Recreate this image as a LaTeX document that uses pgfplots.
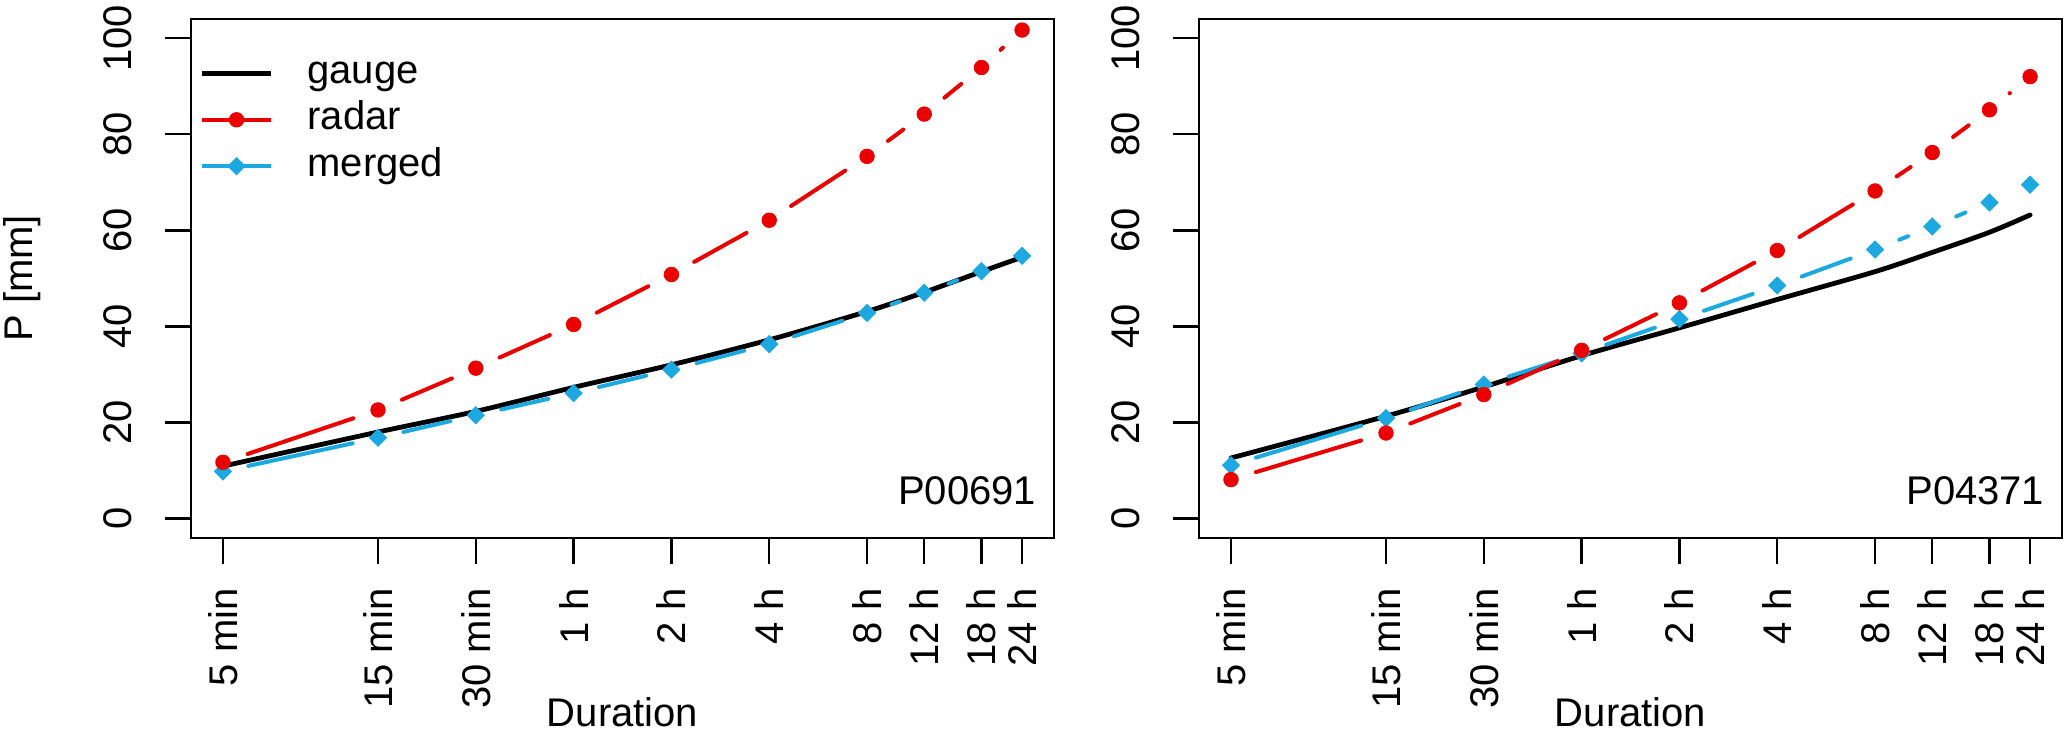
\documentclass[border=0pt]{standalone}
\usepackage{pgfplots}
\pgfplotsset{compat=1.18}
\usepackage{pgfplotstable}
\usepackage{fontspec}
\setmainfont{Liberation Sans}

\definecolor{rred}{RGB}{235,0,0}
\definecolor{rcyan}{RGB}{28,168,224}

\pgfplotstableread{
x gauge radar merged
5 10.9 11.7 9.8
15 18.0 22.6 16.8
30 22.3 31.3 21.5
60 27.3 40.4 26.1
120 32.0 50.8 31.0
240 37.2 62.1 36.3
480 43.1 75.4 42.8
720 47.1 84.2 47.0
1080 51.4 93.9 51.5
1440 54.4 101.7 54.7
}\leftdata

\pgfplotstableread{
x gauge radar merged
5 12.6 8.1 11.1
15 21.3 17.8 20.9
30 27.4 25.8 27.9
60 33.9 35.0 34.4
120 39.7 44.9 41.5
240 45.6 55.8 48.5
480 51.4 68.2 56.0
720 55.4 76.2 60.8
1080 59.6 85.1 65.8
1440 63.2 92.0 69.5
}\rightdata

\tikzset{
  gaugeline/.style={black, line width=1.2pt, line join=round, line cap=round},
  redseg/.style={rred, line width=1pt, line cap=round},
  cyanseg/.style={rcyan, line width=1pt, line cap=round},
}
\pgfplotsset{
  redmark/.style={only marks, color=rred, mark=*, mark size=1.82pt, mark options={solid, fill=rred, draw=rred, line width=0.2pt}},
  cyanmark/.style={only marks, color=rcyan, mark=square*, mark size=1.52pt, mark options={solid, fill=rcyan, draw=rcyan, line width=0.2pt, rotate=45}},
}

% R type="b": segments between points, shortened at both ends
\newcommand{\typeb}[3]{%
  \pgfplotstablegetrowsof{#1}%
  \pgfmathtruncatemacro\nseg{\pgfplotsretval-1}%
  \pgfplotsforeachungrouped \kk in {1,...,\nseg}{%
    \pgfmathtruncatemacro\km{\kk-1}%
    \pgfplotstablegetelem{\km}{x}\of{#1}\let\xxa\pgfplotsretval
    \pgfplotstablegetelem{\kk}{x}\of{#1}\let\xxb\pgfplotsretval
    \pgfplotstablegetelem{\km}{#2}\of{#1}\let\yya\pgfplotsretval
    \pgfplotstablegetelem{\kk}{#2}\of{#1}\let\yyb\pgfplotsretval
    \pgfmathsetmacro\seglen{sqrt((14.1*ln(\xxb/\xxa))^2+(0.4807*(\yyb-\yya))^2)}%
    \pgfmathparse{\seglen>5.2?1:0}%
    \ifnum\pgfmathresult=1
      \edef\doplot{\noexpand\addplot[#3, forget plot, shorten <=6.5pt, shorten >=6.5pt] coordinates {(\xxa,\yya) (\xxb,\yyb)};}%
      \doplot
    \fi
  }%
}

\begin{document}
\begin{tikzpicture}
\useasboundingbox (0,0) rectangle (516.75pt,182.25pt);

\begin{axis}[
  scale only axis, width=215.75pt, height=129.675pt,
  anchor=south west, at={(47.75pt,47.825pt)},
  xmode=log, xmin=3.987, xmax=1806, ymin=-4, ymax=104,
  xtick={5,15,30,60,120,240,480,720,1080,1440},
  xticklabels={5 min,15 min,30 min,1 h,2 h,4 h,8 h,12 h,18 h,24 h},
  ytick={0,20,40,60,80,100}, yticklabels={0,20,40,60,80,100},
  xminorticks=false, yminorticks=false,
  xtick pos=bottom, ytick pos=left, tick align=outside,
  major tick length=6.5pt,
  axis line style={line width=0.6pt},
  every tick/.style={black, line width=0.6pt},
  xticklabel style={rotate=90, anchor=east, inner sep=0pt},
  yticklabel style={rotate=90, anchor=south, inner sep=0pt},
  xticklabel shift=6pt, yticklabel shift=8pt,
  xlabel={Duration},
  xlabel style={at={(axis description cs:0.5,0)}, anchor=base, inner sep=0pt, yshift=-47.1pt},
  ylabel={P [mm]},
  ylabel style={at={(axis description cs:0,0.5)}, anchor=base, inner sep=0pt, yshift=39.5pt},
  legend style={draw=none, fill=none, at={(axis description cs:0,1)}, anchor=north west,
    xshift=2.25pt, yshift=-8.6pt, inner sep=0pt, outer sep=0pt, row sep=1.6pt, column sep=8.6pt,
    nodes={inner sep=0pt, text height=7.5pt, text depth=2.5pt}},
  legend cell align=left,
]
\addlegendimage{black, line width=1.2pt}
\addlegendentry{gauge}
\addlegendimage{rred, line width=1pt, mark=*, mark size=1.82pt, mark options={solid, fill=rred, draw=rred, line width=0.2pt}}
\addlegendentry{radar}
\addlegendimage{rcyan, line width=1pt, mark=square*, mark size=1.52pt, mark options={solid, fill=rcyan, draw=rcyan, line width=0.2pt, rotate=45}}
\addlegendentry{merged}

\addplot[gaugeline, smooth, forget plot] table[x=x, y=gauge] {\leftdata};
\typeb{\leftdata}{merged}{cyanseg}
\addplot[cyanmark, forget plot] table[x=x, y=merged] {\leftdata};
\typeb{\leftdata}{radar}{redseg}
\addplot[redmark, forget plot] table[x=x, y=radar] {\leftdata};
\node[anchor=base east, inner sep=0pt, xshift=-4.25pt, yshift=8.2pt] at (rel axis cs:1,0) {P00691};
\end{axis}

\begin{axis}[
  scale only axis, width=215.75pt, height=129.675pt,
  anchor=south west, at={(299.75pt,47.825pt)},
  xmode=log, xmin=3.987, xmax=1806, ymin=-4, ymax=104,
  xtick={5,15,30,60,120,240,480,720,1080,1440},
  xticklabels={5 min,15 min,30 min,1 h,2 h,4 h,8 h,12 h,18 h,24 h},
  ytick={0,20,40,60,80,100}, yticklabels={0,20,40,60,80,100},
  xminorticks=false, yminorticks=false,
  xtick pos=bottom, ytick pos=left, tick align=outside,
  major tick length=6.5pt,
  axis line style={line width=0.6pt},
  every tick/.style={black, line width=0.6pt},
  xticklabel style={rotate=90, anchor=east, inner sep=0pt},
  yticklabel style={rotate=90, anchor=south, inner sep=0pt},
  xticklabel shift=6pt, yticklabel shift=8pt,
  xlabel={Duration},
  xlabel style={at={(axis description cs:0.5,0)}, anchor=base, inner sep=0pt, yshift=-47.1pt},
]
\addplot[gaugeline, smooth, forget plot] table[x=x, y=gauge] {\rightdata};
\typeb{\rightdata}{merged}{cyanseg}
\addplot[cyanmark, forget plot] table[x=x, y=merged] {\rightdata};
\typeb{\rightdata}{radar}{redseg}
\addplot[redmark, forget plot] table[x=x, y=radar] {\rightdata};
\node[anchor=base east, inner sep=0pt, xshift=-4.25pt, yshift=8.2pt] at (rel axis cs:1,0) {P04371};
\end{axis}
\end{tikzpicture}
\end{document}
